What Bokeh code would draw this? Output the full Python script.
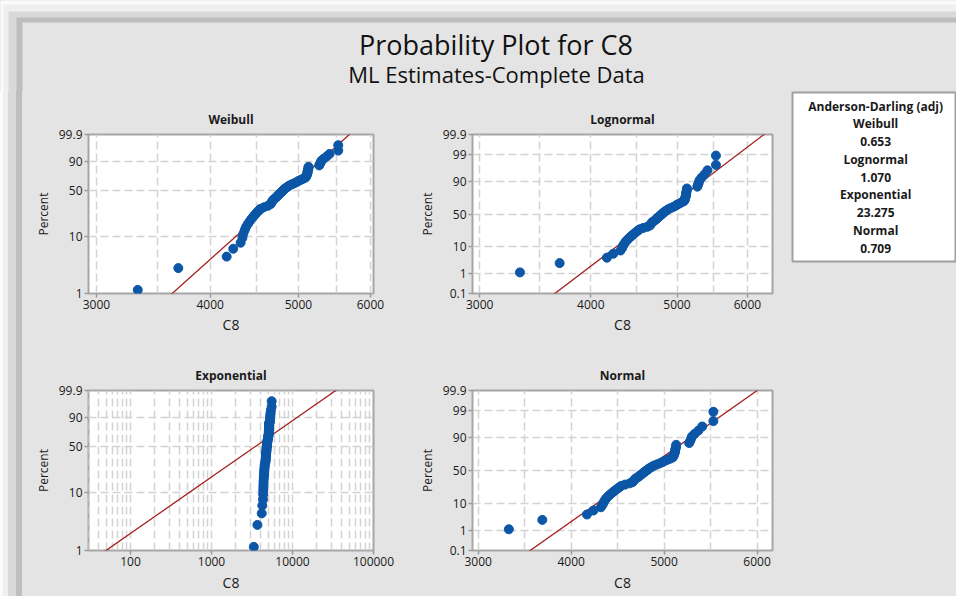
import math
from statistics import NormalDist

from bokeh.plotting import figure
from bokeh.layouts import column, row
from bokeh.models import Range1d, FixedTicker, NumeralTickFormatter, BoxAnnotation, Spacer
from bokeh.embed import file_html
from bokeh.resources import INLINE
from bokeh.core.properties import value

# ---------------- data ----------------
c8_values = [3330, 3690, 4170, 4240, 4320, 4340, 4350, 4365, 4380, 4400,
             4420, 4440, 4460, 4480, 4500, 4520, 4540, 4580, 4630, 4660,
             4670, 4680, 4690, 4710, 4730, 4740, 4760, 4770, 4790, 4800,
             4820, 4830, 4850, 4870, 4890, 4920, 4950, 4980, 5000, 5030,
             5060, 5090, 5100, 5105, 5110, 5115, 5118, 5120, 5125, 5128,
             5130, 5270, 5280, 5290, 5300, 5330, 5370, 5410, 5530, 5530]

chart_title = "Probability Plot for C8"
chart_subtitle = "ML Estimates-Complete Data"
dist_names = ["Weibull", "Lognormal", "Exponential", "Normal"]
ad_values = ["0.653", "1.070", "23.275", "0.709"]
legend_heading = "Anderson-Darling (adj)"
x_label = "C8"
y_label = "Percent"

weibull_pct_ticks = [1, 10, 50, 90, 99.9]
weibull_pct_grid = [10, 50, 90]
normal_pct_ticks = [0.1, 1, 10, 50, 90, 99, 99.9]
normal_pct_grid = [1, 10, 50, 90, 99]
c8_ticks = [3000, 4000, 5000, 6000]
c8_grid = [3000, 3500, 4000, 4500, 5000, 5500, 6000]
exp_ticks = [100, 1000, 10000, 100000]
exp_grid = [30, 40, 50, 60, 70, 80, 90,
            100, 200, 300, 400, 500, 600, 700, 800, 900,
            1000, 2000, 3000, 4000, 5000, 6000, 7000, 8000, 9000,
            10000, 20000, 30000, 40000, 50000, 60000, 70000, 80000, 90000, 100000]

# fitted (ML) parameters
weibull_shape, weibull_scale = 14.57, 4982.0
lognormal_loc, lognormal_scale = 8.4717, 0.0876
exponential_mean = 4950.0
normal_mean, normal_sd = 4780.0, 395.0

# ---------------- helpers ----------------
ND = NormalDist()


def w_scale(pct):
    p = pct / 100.0
    return math.log(-math.log(1.0 - p))


def z_scale(pct):
    return ND.inv_cdf(pct / 100.0)


n = len(c8_values)
plot_pcts = [(i + 1 - 0.3) / (n + 0.4) * 100.0 for i in range(n)]
line_pcts = [0.01, 99.99]

FONT = "Open Sans"
PANEL_BG = "#e4e4e4"
DOT = "#0b56a6"
RED = "#a31f1f"
BG_STYLE = {"background-color": PANEL_BG}
BAND_STYLE = {"background": "linear-gradient(to right, #fafafa 0px, #fafafa 3px, "
                            "#efefef 3px, #efefef 8px, #d9d9d9 8px, #d9d9d9 16px, "
                            "#bebebe 16px, #bebebe 22px, #e4e4e4 22px)"}

TOP = 91      # y where the panel rows start
BOTTOM = 596  # total height
WIDTH = 956


def q_weibull(pct):
    p = pct / 100.0
    return weibull_scale * (-math.log(1 - p)) ** (1.0 / weibull_shape)


def q_lognormal(pct):
    return math.exp(lognormal_loc + lognormal_scale * z_scale(pct))


def q_exponential(pct):
    p = pct / 100.0
    return exponential_mean * (-math.log(1 - p))


def q_normal(pct):
    return normal_mean + normal_sd * z_scale(pct)


def panel(title, width, height, borders, x_type, x_rng, yfun, y_ticks, y_grid,
          x_ticks, x_grid, qfun, x_lab_standoff):
    l, r, t, b = borders
    y_lo, y_hi = yfun(y_ticks[0]), yfun(y_ticks[-1])
    p = figure(width=width, height=height, x_axis_type=x_type,
               x_range=Range1d(*x_rng), y_range=Range1d(y_lo, y_hi),
               output_backend="svg", toolbar_location=None,
               min_border_left=l, min_border_right=r,
               min_border_top=t, min_border_bottom=b)
    p.background_fill_color = "white"
    p.border_fill_color = PANEL_BG
    p.outline_line_color = "#a6a6a6"
    p.outline_line_width = 2

    p.title.text = title
    p.title.align = "center"
    p.title.text_font = FONT
    p.title.text_font_size = "12px"
    p.title.text_font_style = "bold"
    p.title.text_color = "#1a1a1a"
    p.title.standoff = 14

    p.xaxis.ticker = FixedTicker(ticks=x_ticks)
    p.xaxis.formatter = NumeralTickFormatter(format="0")
    p.xgrid.ticker = FixedTicker(ticks=x_grid)
    yt = [yfun(v) for v in y_ticks]
    p.yaxis.ticker = FixedTicker(ticks=yt)
    p.yaxis.major_label_overrides = {yfun(v): f"{v:g}" for v in y_ticks}
    p.ygrid.ticker = FixedTicker(ticks=[yfun(v) for v in y_grid])

    for ax in (p.xaxis, p.yaxis):
        ax.axis_line_color = None
        ax.major_tick_line_color = "#9a9a9a"
        ax.major_tick_line_width = 1.5
        ax.major_tick_out = 4
        ax.major_tick_in = 0
        ax.minor_tick_line_color = None
        ax.major_label_text_font = FONT
        ax.major_label_text_font_size = "12px"
        ax.major_label_text_color = "#1a1a1a"
        ax.major_label_standoff = 2
        ax.axis_label_text_font = FONT
        ax.axis_label_text_font_style = "normal"
        ax.axis_label_text_color = "#1a1a1a"
    p.xaxis.axis_label = x_label
    p.xaxis.axis_label_text_font_size = "14px"
    p.xaxis.axis_label_standoff = x_lab_standoff
    p.yaxis.axis_label = y_label
    p.yaxis.axis_label_text_font_size = "12px"
    p.yaxis.axis_label_standoff = 4

    for g in (p.xgrid, p.ygrid):
        g.grid_line_color = "#d3d3d3"
        g.grid_line_width = 1.5
        g.grid_line_dash = "8 4"

    lx = [qfun(v) for v in line_pcts]
    ly = [yfun(v) for v in line_pcts]
    p.line(lx, ly, line_color=RED, line_width=1.3)
    p.scatter(c8_values, [yfun(v) for v in plot_pcts], size=9,
              fill_color=DOT, line_color=DOT)
    return p


row1_h = 340 - TOP
row2_h = BOTTOM - 340
weib = panel(dist_names[0], 374, row1_h, (66, 23, 134 - TOP, 47), "log", (2940, 6046),
             w_scale, weibull_pct_ticks, weibull_pct_grid, c8_ticks, c8_grid,
             q_weibull, 3)
logn = panel(dist_names[1], 389, row1_h, (76, 13, 134 - TOP, 47), "log", (2945, 6402),
             z_scale, normal_pct_ticks, normal_pct_grid, c8_ticks, c8_grid,
             q_lognormal, 3)
expo = panel(dist_names[2], 374, row2_h, (66, 23, 50, 45), "log", (30.3, 100000),
             w_scale, weibull_pct_ticks, weibull_pct_grid, exp_ticks, exp_grid,
             q_exponential, 4)
norm = panel(dist_names[3], 389, row2_h, (76, 13, 50, 46), "linear", (2939, 6166),
             z_scale, normal_pct_ticks, normal_pct_grid, c8_ticks, c8_grid,
             q_normal, 4)

# window-frame shading: (x start, y start, colour) light, medium, dark, panel grey
frame_bands = [(3, 4, "#efefef"), (8, 11, "#d9d9d9"), (16, 17, "#bebebe"), (22, 22, PANEL_BG)]

# ---------------- header (title + window frame) ----------------
hdr = figure(width=WIDTH, height=TOP, x_range=Range1d(0, WIDTH), y_range=Range1d(TOP, 0),
             x_axis_location=None, y_axis_location=None, min_border=0,
             toolbar_location=None, output_backend="svg")
hdr.grid.visible = False
hdr.outline_line_color = None
hdr.background_fill_color = "#fafafa"
hdr.border_fill_color = "#fafafa"
for (x0, y0, col) in frame_bands:
    hdr.add_layout(BoxAnnotation(left=x0, right=WIDTH, top=y0, bottom=TOP,
                                 fill_color=col, fill_alpha=1, line_color=None,
                                 level="underlay"))
hdr.text(x=[495.5], y=[43.5], text=[chart_title], text_align="center",
         text_baseline="middle", text_font=value(FONT), text_font_size="27px",
         text_color="#111111")
hdr.text(x=[496], y=[73.5], text=[chart_subtitle], text_align="center",
         text_baseline="middle", text_font=value(FONT), text_font_size="22px",
         text_color="#111111")

band = Spacer(width=22, height=BOTTOM - TOP)

# ---------------- legend box ----------------
legend_lines = [legend_heading]
for name, ad in zip(dist_names, ad_values):
    legend_lines += [name, ad]
nl = len(legend_lines)
leg = figure(width=WIDTH - 785, height=BOTTOM - TOP, x_range=Range1d(0, 1),
             y_range=Range1d(nl - 1 + 0.75, -0.77),
             x_axis_location=None, y_axis_location=None,
             min_border_left=7, min_border_right=1, min_border_top=1,
             min_border_bottom=BOTTOM - 261, toolbar_location=None, output_backend="svg")
leg.grid.visible = False
leg.background_fill_color = "white"
leg.border_fill_color = PANEL_BG
leg.outline_line_color = "#a0a0a0"
leg.outline_line_width = 2
leg.text(x=[0.51] * nl, y=list(range(nl)), text=legend_lines, text_align="center",
         text_baseline="middle", text_font=value(FONT), text_font_size="12px",
         text_font_style="bold", text_color="#1a1a1a")

grid = column(row(weib, logn, spacing=0, styles=BG_STYLE),
              row(expo, norm, spacing=0, styles=BG_STYLE),
              spacing=0, styles=BG_STYLE)
layout = column(hdr, row(band, grid, leg, spacing=0, styles=BAND_STYLE),
                spacing=0, styles=BG_STYLE)
open("out.html", "w").write(file_html(layout, INLINE))
